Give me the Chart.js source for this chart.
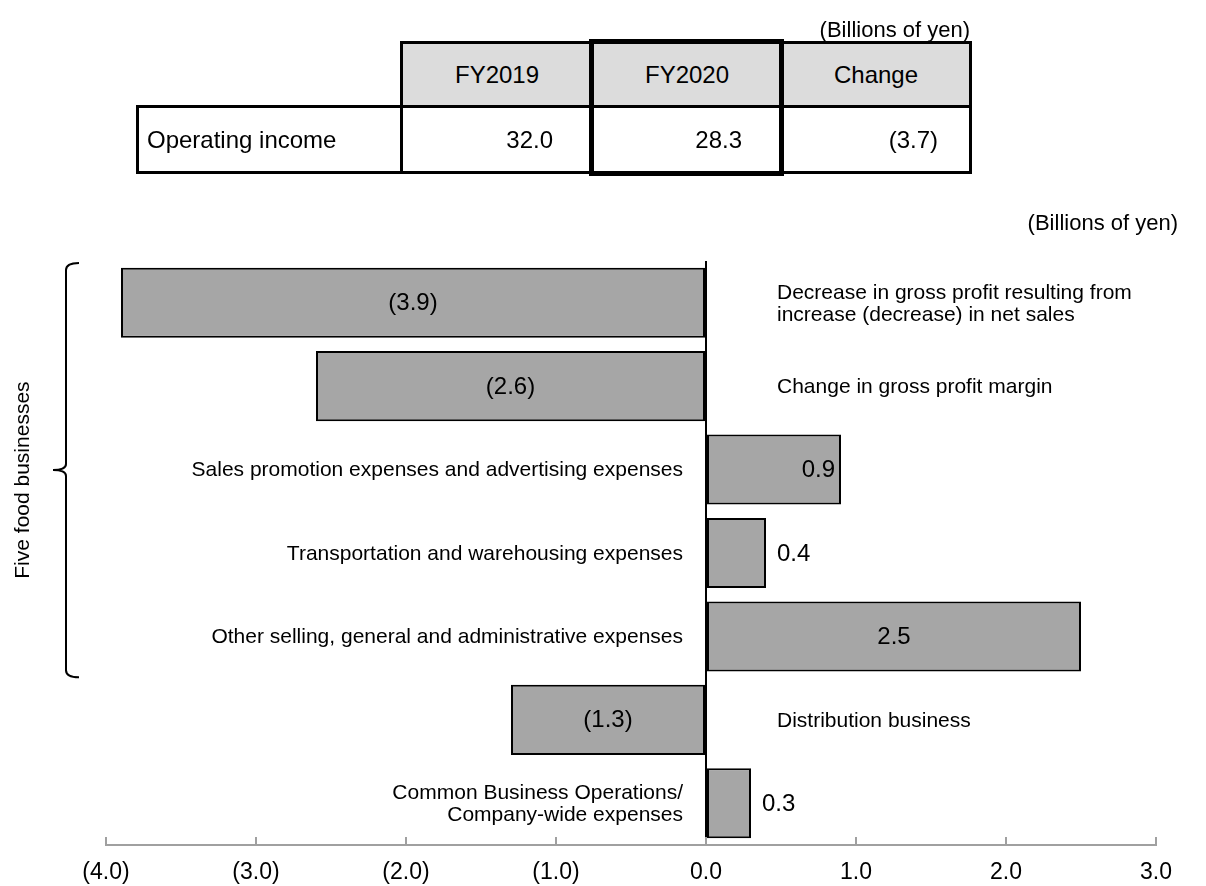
<!DOCTYPE html>
<html>
<head>
<meta charset="utf-8">
<script src="https://cdn.jsdelivr.net/npm/chart.js@4.4.0/dist/chart.umd.min.js"></script>
<style>
  html, body { margin: 0; padding: 0; background: #fff; }
  body { width: 1206px; height: 886px; position: relative; overflow: hidden;
         font-family: "Liberation Sans", Arial, sans-serif; color: #000; }
  #chart { position: absolute; left: 0; top: 0; }
  .unit { position: absolute; font-size: 22px; white-space: nowrap; line-height: 1; }
  .cell { position: absolute; box-sizing: border-box; border: 3px solid #000;
          display: flex; align-items: center; font-size: 24px; white-space: nowrap; }
  .head { background: #dcdcdc; justify-content: center; }
  .frame { position: absolute; box-sizing: border-box; border: 5px solid #000; }
</style>
</head>
<body>
<canvas id="chart" width="1206" height="886"></canvas>

<script>
// summary table
const tableHeaders = ['FY2019', 'FY2020', 'Change'];
const tableRowLabel = 'Operating income';
const tableValues = [32.0, 28.3, -3.7];
const unitLabel = '(Billions of yen)';

// bar chart
const categories = [
  ['Decrease in gross profit resulting from', 'increase (decrease) in net sales'],
  ['Change in gross profit margin'],
  ['Sales promotion expenses and advertising expenses'],
  ['Transportation and warehousing expenses'],
  ['Other selling, general and administrative expenses'],
  ['Distribution business'],
  ['Common Business Operations/', 'Company-wide expenses']
];
const changes = [-3.9, -2.6, 0.9, 0.4, 2.5, -1.3, 0.3];
const xMin = -4;
const xMax = 3;
const groupLabel = 'Five food businesses';
const groupSize = 5; // first five rows belong to the bracket

const FONT = '"Liberation Sans", Arial, sans-serif';

function fmt(v) {
  return v < 0 ? '(' + Math.abs(v).toFixed(1) + ')' : v.toFixed(1);
}

// ---- table (plain html) ----
const colX = [137, 401, 592, 781, 970];
const rowY = [42, 106, 172];

function addCell(x0, x1, y0, y1, text, cls, style) {
  const d = document.createElement('div');
  d.className = 'cell ' + (cls || '');
  d.style.left = (x0 - 1) + 'px';
  d.style.top = (y0 - 1) + 'px';
  d.style.width = (x1 - x0 + 3) + 'px';
  d.style.height = (y1 - y0 + 3) + 'px';
  Object.assign(d.style, style || {});
  d.textContent = text;
  document.body.appendChild(d);
}

tableHeaders.forEach((h, i) => addCell(colX[i + 1], colX[i + 2], rowY[0], rowY[1], h, 'head'));
addCell(colX[0], colX[1], rowY[1], rowY[2], tableRowLabel, '', { paddingLeft: '8px' });
const rightPad = [38, 38, 31];
tableValues.forEach((v, i) => addCell(colX[i + 1], colX[i + 2], rowY[1], rowY[2], fmt(v), '',
  { justifyContent: 'flex-end', paddingRight: rightPad[i] + 'px' }));

const frame = document.createElement('div');
frame.className = 'frame';
frame.style.left = (colX[2] - 3) + 'px';
frame.style.top = (rowY[0] - 3) + 'px';
frame.style.width = (colX[3] - colX[2] + 6) + 'px';
frame.style.height = (rowY[2] - rowY[0] + 7) + 'px';
document.body.appendChild(frame);

const u1 = document.createElement('div');
u1.className = 'unit';
u1.textContent = unitLabel;
u1.style.right = (1206 - 970) + 'px';
u1.style.top = '19px';
document.body.appendChild(u1);

const u2 = document.createElement('div');
u2.className = 'unit';
u2.textContent = unitLabel;
u2.style.right = (1206 - 1178) + 'px';
u2.style.top = '212px';
document.body.appendChild(u2);

// ---- chart ----
const annotate = {
  id: 'annotate',
  afterDraw(chart) {
    const { ctx, chartArea, scales: { x, y } } = chart;
    const meta = chart.getDatasetMeta(0);
    const zero = x.getPixelForValue(0);
    ctx.save();

    // small tick marks pointing up from the axis
    ctx.strokeStyle = '#a0a0a0';
    ctx.lineWidth = 2;
    x.ticks.forEach(t => {
      const px = Math.round(x.getPixelForValue(t.value));
      ctx.beginPath();
      ctx.moveTo(px, chartArea.bottom);
      ctx.lineTo(px, chartArea.bottom - 8);
      ctx.stroke();
    });

    ctx.fillStyle = '#000';
    ctx.textBaseline = 'middle';
    meta.data.forEach((bar, i) => {
      const v = changes[i];
      const w = Math.abs(bar.x - bar.base);
      let tx, align;
      if (w < 100) {
        align = v < 0 ? 'right' : 'left';
        tx = bar.x + (v < 0 ? -11 : 11);
      } else if (w < 160) {
        align = v < 0 ? 'left' : 'right';
        tx = bar.x + (v < 0 ? 6 : -6);
      } else {
        align = 'center';
        tx = (bar.x + bar.base) / 2;
      }
      ctx.font = '24px ' + FONT;
      ctx.textAlign = align;
      ctx.fillText(fmt(v), tx, bar.y + 1);

      // category text on the other side of zero
      const lines = categories[i];
      ctx.font = '21px ' + FONT;
      ctx.textAlign = v < 0 ? 'left' : 'right';
      const cx = v < 0 ? zero + 71 : zero - 23;
      lines.forEach((ln, k) => {
        ctx.fillText(ln, cx, bar.y + 1 + (k - (lines.length - 1) / 2) * 22);
      });
    });

    // curly bracket for the food businesses
    const half = (y.getPixelForValue(1) - y.getPixelForValue(0)) / 2;
    const top = y.getPixelForValue(0) - half + 2;
    const bot = y.getPixelForValue(groupSize - 1) + half - 1;
    const mid = (top + bot) / 2;
    ctx.strokeStyle = '#000';
    ctx.lineWidth = 2;
    ctx.beginPath();
    ctx.moveTo(79, top);
    ctx.quadraticCurveTo(66, top, 66, top + 7);
    ctx.lineTo(66, mid - 6);
    ctx.quadraticCurveTo(66, mid, 53, mid);
    ctx.quadraticCurveTo(66, mid, 66, mid + 6);
    ctx.lineTo(66, bot - 7);
    ctx.quadraticCurveTo(66, bot, 79, bot);
    ctx.stroke();

    ctx.translate(23, mid + 10);
    ctx.rotate(-Math.PI / 2);
    ctx.font = '21px ' + FONT;
    ctx.textAlign = 'center';
    ctx.fillText(groupLabel, 0, 0);
    ctx.restore();
  }
};

const data = {
  labels: categories.map(c => c.join(' ')),
  datasets: [{
    data: changes,
    backgroundColor: '#a6a6a6',
    borderColor: '#000',
    borderWidth: 2,
    borderSkipped: false,
    categoryPercentage: 1,
    barPercentage: 0.84
  }]
};

const config = {
  type: 'bar',
  data,
  options: {
    indexAxis: 'y',
    responsive: false,
    animation: false,
    layout: { padding: { left: 106, right: 50, top: 261, bottom: 0 } },
    plugins: { legend: { display: false }, tooltip: { enabled: false } },
    scales: {
      x: {
        type: 'linear',
        min: xMin,
        max: xMax,
        afterFit: s => { s.height = 41; },
        grid: {
          drawTicks: false,
          lineWidth: 2,
          color: c => (c.tick && c.tick.value === 0 ? '#000' : 'rgba(0,0,0,0)')
        },
        border: { display: true, color: '#a0a0a0', width: 2 },
        ticks: {
          stepSize: 1,
          autoSkip: false,
          maxRotation: 0,
          padding: 14,
          color: '#000',
          font: { family: FONT, size: 23 },
          callback: v => fmt(v)
        }
      },
      y: { display: false }
    }
  },
  plugins: [annotate]
};

const myChart = new Chart(document.getElementById('chart'), config);
</script>
</body>
</html>
